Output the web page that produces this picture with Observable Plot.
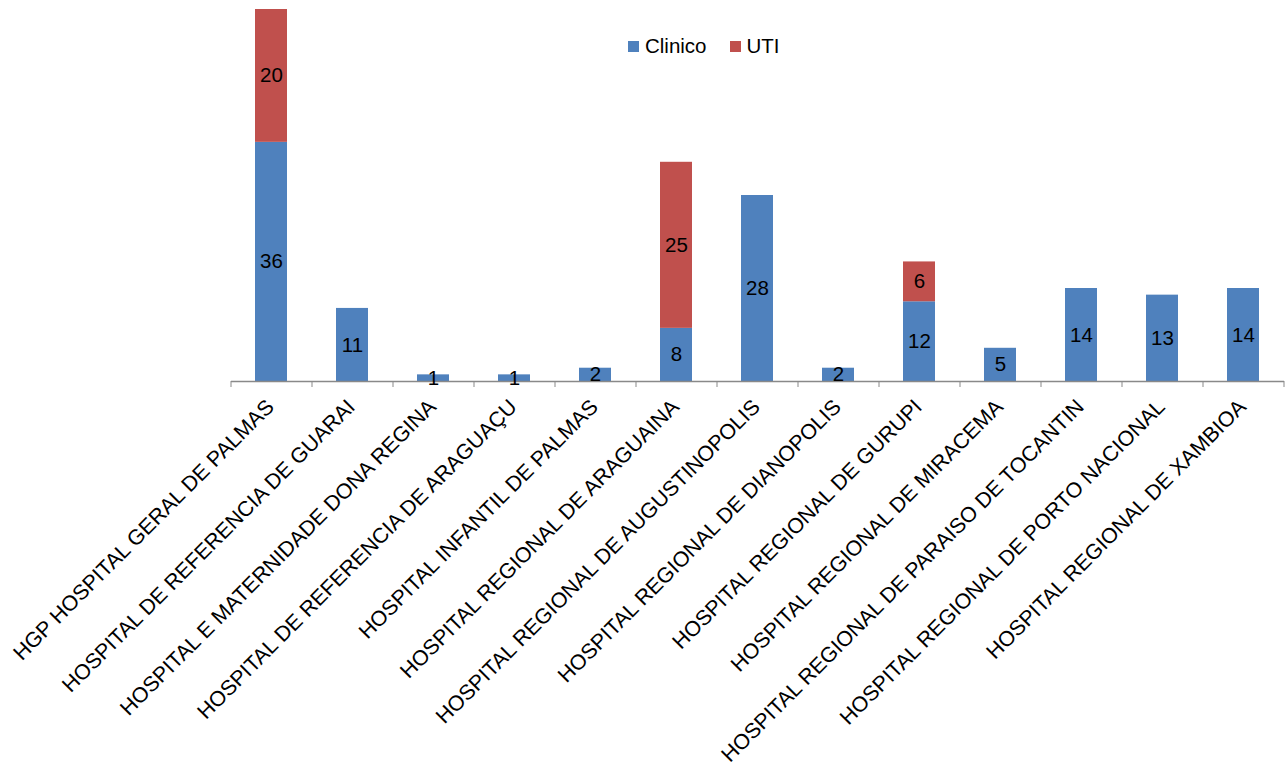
<!DOCTYPE html>
<html>
<head>
<meta charset="utf-8">
<script src="https://cdn.jsdelivr.net/npm/d3@7"></script>
<script src="https://cdn.jsdelivr.net/npm/@observablehq/plot@0.6"></script>
<style>
  html, body { margin: 0; padding: 0; background: #fff; }
  #wrap { position: relative; width: 1287px; height: 767px; font-family: "Liberation Sans", Arial, sans-serif; }
  #legend { position: absolute; left: 628px; top: 34px; display: flex; align-items: center; font-size: 20.5px; color: #000; }
  #legend .item { display: flex; align-items: center; margin-right: 23px; }
  #legend .sw { width: 11px; height: 11px; margin-right: 6px; }
</style>
</head>
<body>
<div id="wrap"><div id="legend"></div></div>
<script>
const categories = [
  "HGP HOSPITAL GERAL DE PALMAS",
  "HOSPITAL DE REFERENCIA DE GUARAI",
  "HOSPITAL E MATERNIDADE DONA REGINA",
  "HOSPITAL DE REFERENCIA DE ARAGUAÇU",
  "HOSPITAL INFANTIL DE PALMAS",
  "HOSPITAL REGIONAL DE ARAGUAINA",
  "HOSPITAL REGIONAL DE AUGUSTINOPOLIS",
  "HOSPITAL REGIONAL DE DIANOPOLIS",
  "HOSPITAL REGIONAL DE GURUPI",
  "HOSPITAL REGIONAL DE MIRACEMA",
  "HOSPITAL REGIONAL DE PARAISO DE TOCANTIN",
  "HOSPITAL REGIONAL DE PORTO NACIONAL",
  "HOSPITAL REGIONAL DE XAMBIOA"
];
const clinico = [36, 11, 1, 1, 2, 8, 28, 2, 12, 5, 14, 13, 14];
const uti     = [20, 0, 0, 0, 0, 25, 0, 0, 6, 0, 0, 0, 0];
const seriesNames = ["Clinico", "UTI"];
const seriesColors = ["#4F81BD", "#C0504D"];

const rows = [];
categories.forEach((c, i) => {
  rows.push({cat: c, series: "Clinico", value: clinico[i], base: 0});
  if (uti[i] > 0) rows.push({cat: c, series: "UTI", value: uti[i], base: clinico[i]});
});

const W = 1287, H = 767;
const mL = 231, mR = 3, mT = 9, mB = 386;
const step = (W - mL - mR) / categories.length;
const yMax = d3.max(categories, (c, i) => clinico[i] + uti[i]);
const font = "'Liberation Sans', Arial, sans-serif";

const chart = Plot.plot({
  width: W,
  height: H,
  marginLeft: mL,
  marginRight: mR,
  marginTop: mT,
  marginBottom: mB,
  style: {fontFamily: font, background: "transparent"},
  x: {domain: categories, paddingInner: 0.6, paddingOuter: 0.3, axis: null, label: null},
  y: {domain: [0, yMax], axis: null},
  color: {domain: seriesNames, range: seriesColors},
  marks: [
    Plot.rectY(rows, {x: "cat", y1: "base", y2: d => d.base + d.value, fill: "series"}),
    Plot.ruleY([0], {stroke: "#898989", strokeWidth: 1.3}),
    Plot.axisX({ticks: categories, tickSize: 6, tickFormat: () => "", label: null, dx: -step / 2, color: "#898989", tickPadding: 0}),
    Plot.axisX({ticks: [categories[categories.length - 1]], tickSize: 6, tickFormat: () => "", label: null, dx: step / 2, color: "#898989", tickPadding: 0}),
    Plot.text(rows, {x: "cat", y: d => d.base + d.value / 2, text: d => String(d.value), fontSize: 20.5, fill: "#000", fontFamily: font}),
    Plot.text(categories, {x: d => d, y: () => 0, text: d => d, rotate: -45, textAnchor: "end", lineAnchor: "top", dx: -7, dy: 16, fontSize: 21.3, fill: "#000", fontFamily: font})
  ]
});
document.getElementById("wrap").prepend(chart);

const legend = document.getElementById("legend");
seriesNames.forEach((s, i) => {
  const it = document.createElement("div");
  it.className = "item";
  const sw = document.createElement("span");
  sw.className = "sw";
  sw.style.background = seriesColors[i];
  const t = document.createElement("span");
  t.textContent = s;
  it.append(sw, t);
  legend.append(it);
});
</script>
</body>
</html>
